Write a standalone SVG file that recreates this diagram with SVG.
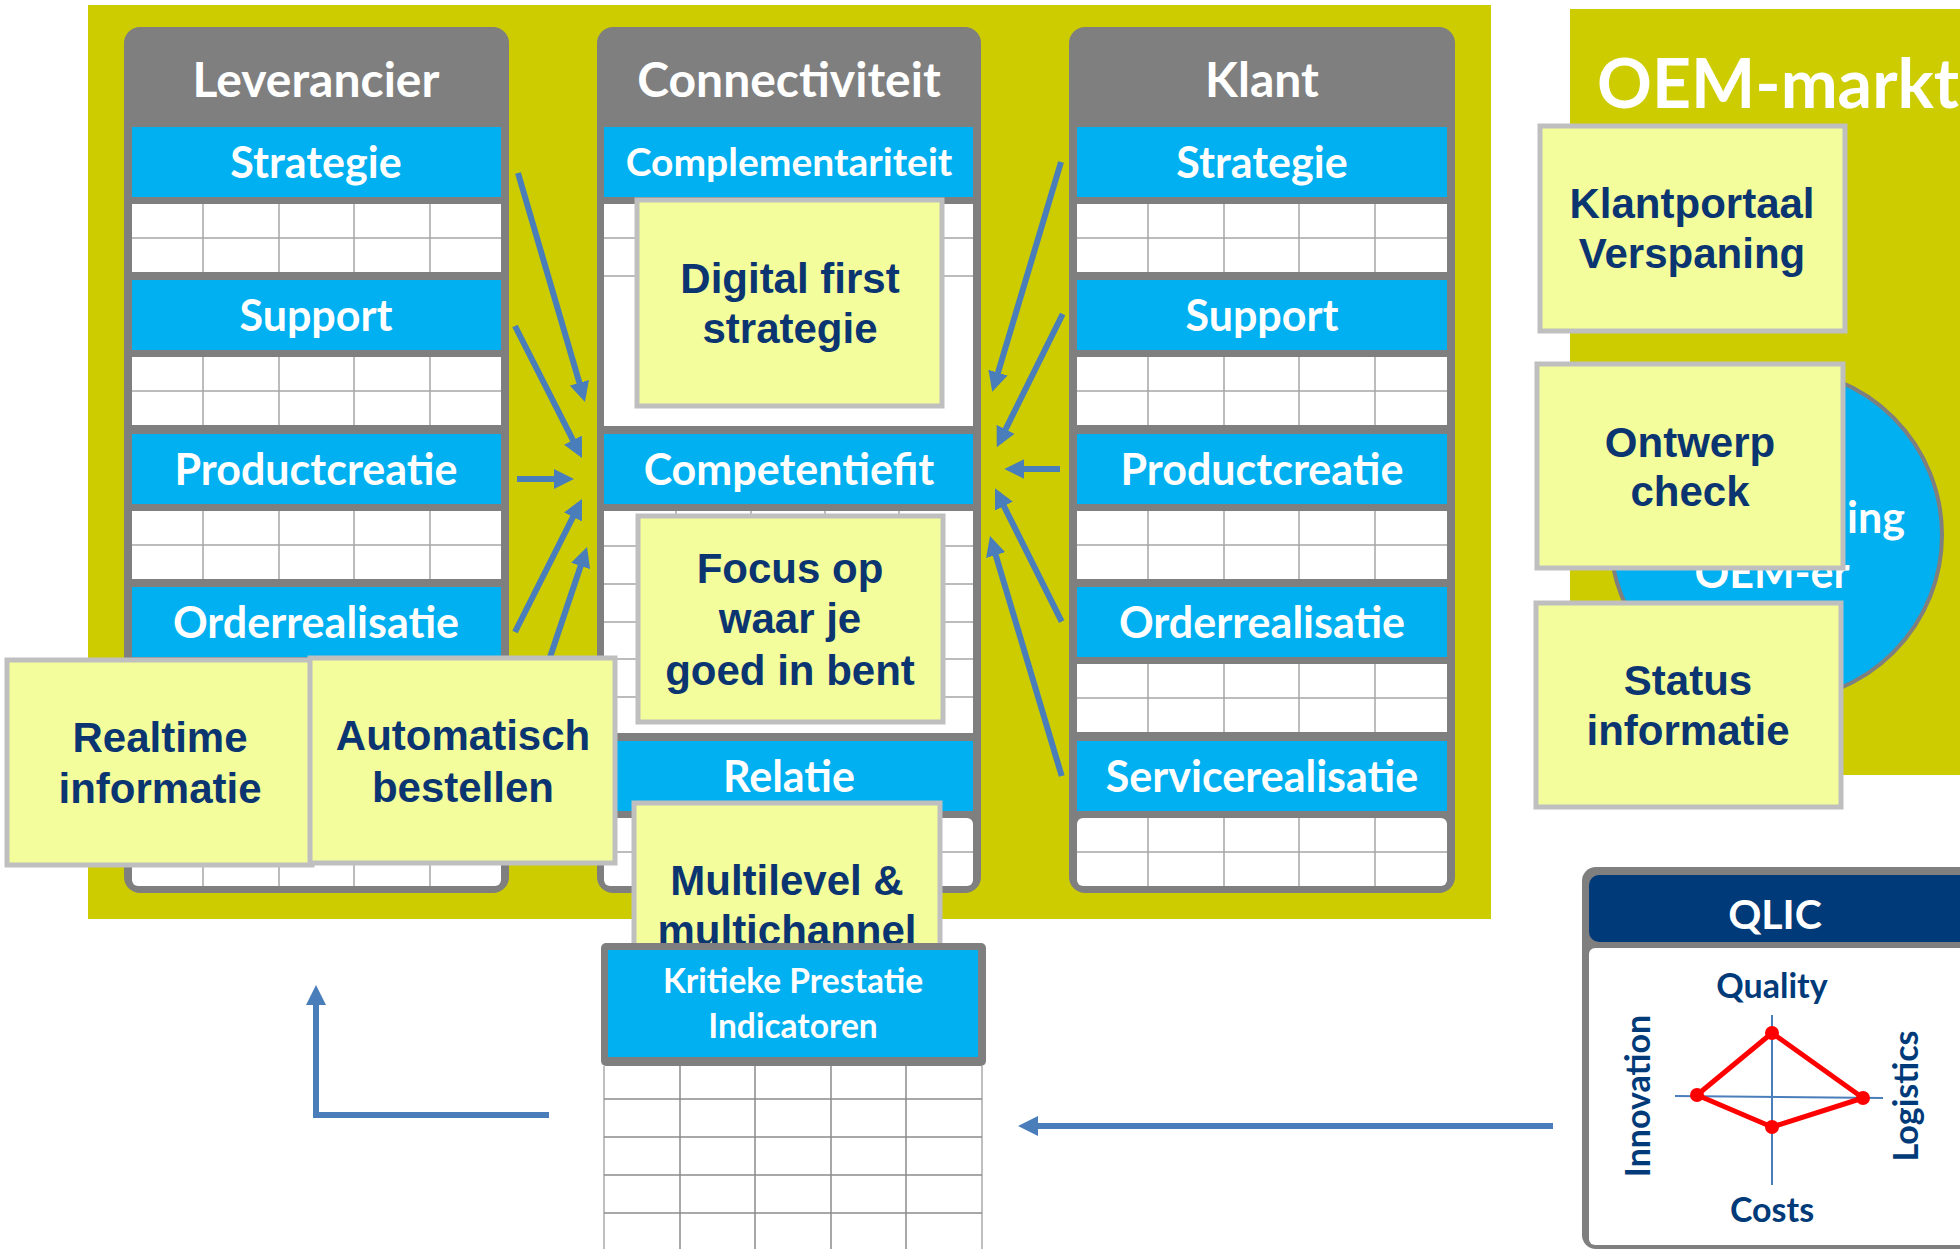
<svg xmlns="http://www.w3.org/2000/svg" width="1960" height="1249" viewBox="0 0 1960 1249">
<defs>
<style>
.yel{fill:#CCCC00}
.col{fill:#7F7F7F}
.band{fill:#00B0F0}
.tbl{fill:#FFFFFF}
.grid{stroke:#A6A6A6;stroke-width:1.5;fill:none}
.hdr{font-family:Lato,"Liberation Sans",sans-serif;font-weight:700;fill:#FFFFFF;font-size:48px;text-anchor:middle}
.bt{font-family:Lato,"Liberation Sans",sans-serif;font-weight:700;fill:#FFFFFF;font-size:43px;text-anchor:middle}
.sticky{fill:#F3FD9B;stroke:#BFBFBF;stroke-width:5}
.st{font-family:"Liberation Sans",Arial,sans-serif;font-weight:700;font-size:42px;fill:#0B3570;text-anchor:middle}
.arr{stroke:#4A7EBB;stroke-width:6;fill:none;marker-end:url(#ah)}
.q{font-family:Lato,"Liberation Sans",sans-serif;font-weight:700;fill:#003A78;font-size:34px;text-anchor:middle}
</style>
<marker id="ah" markerUnits="userSpaceOnUse" markerWidth="20" markerHeight="20" viewBox="0 0 20 20" refX="14" refY="10" orient="auto">
<path d="M0,0 L20,10 L0,20 z" fill="#4A7EBB"/>
</marker>
</defs>
<rect width="1960" height="1249" fill="#FFFFFF"/>
<rect id="main-area" class="yel" x="88" y="5" width="1403" height="914"/>
<rect id="oem-area" class="yel" x="1570" y="9" width="390" height="766"/>

<g id="col-leverancier">
<rect class="col" x="124" y="27" width="385" height="866" rx="16"/>
<text class="hdr" x="316" y="97">Leverancier</text>
<rect class="band" x="132" y="127" width="369" height="70"/>
<rect class="band" x="132" y="280" width="369" height="70"/>
<rect class="band" x="132" y="434" width="369" height="70"/>
<rect class="band" x="132" y="587" width="369" height="70"/>
<rect class="band" x="132" y="741" width="369" height="70"/>
<rect class="tbl" x="132" y="204" width="369" height="68"/>
<rect class="tbl" x="132" y="357" width="369" height="68"/>
<rect class="tbl" x="132" y="511" width="369" height="68"/>
<rect class="tbl" x="132" y="664" width="369" height="68"/>
<rect class="tbl" x="132" y="818" width="369" height="68" rx="6"/>
<path class="grid" d="M132,238H501M203,204V272M279,204V272M354,204V272M430,204V272
M132,391H501M203,357V425M279,357V425M354,357V425M430,357V425
M132,545H501M203,511V579M279,511V579M354,511V579M430,511V579
M132,698H501M203,664V732M279,664V732M354,664V732M430,664V732
M132,852H501M203,818V886M279,818V886M354,818V886M430,818V886"/>
<text class="bt" x="316" y="178">Strategie</text>
<text class="bt" x="316" y="331">Support</text>
<text class="bt" x="316" y="485">Productcreatie</text>
<text class="bt" x="316" y="638">Orderrealisatie</text>
</g>

<g id="col-connectiviteit">
<rect class="col" x="597" y="27" width="384" height="866" rx="16"/>
<text class="hdr" x="789" y="97">Connectiviteit</text>
<rect class="band" x="604" y="127" width="369" height="70"/>
<rect class="band" x="604" y="434" width="369" height="70"/>
<rect class="band" x="604" y="741" width="369" height="70"/>
<rect class="tbl" x="604" y="204" width="369" height="222"/>
<rect class="tbl" x="604" y="511" width="369" height="222"/>
<rect class="tbl" x="604" y="818" width="369" height="68" rx="6"/>
<path class="grid" d="M604,238H973M604,276H973M676,204V276M751,204V276M825,204V276M899,204V276
M604,546H973M604,584H973M604,622H973M604,659H973M604,697H973M676,511V697M751,511V697M825,511V697M899,511V697
M604,852H973M676,818V886M751,818V886M825,818V886M899,818V886"/>
<text class="bt" x="789" y="176" style="font-size:39px">Complementariteit</text>
<text class="bt" x="789" y="485">Competentiefit</text>
<text class="bt" x="789" y="792">Relatie</text>
</g>

<g id="col-klant">
<rect class="col" x="1069" y="27" width="386" height="866" rx="16"/>
<text class="hdr" x="1262" y="97">Klant</text>
<rect class="band" x="1077" y="127" width="370" height="70"/>
<rect class="band" x="1077" y="280" width="370" height="70"/>
<rect class="band" x="1077" y="434" width="370" height="70"/>
<rect class="band" x="1077" y="587" width="370" height="70"/>
<rect class="band" x="1077" y="741" width="370" height="70"/>
<rect class="tbl" x="1077" y="204" width="370" height="68"/>
<rect class="tbl" x="1077" y="357" width="370" height="68"/>
<rect class="tbl" x="1077" y="511" width="370" height="68"/>
<rect class="tbl" x="1077" y="664" width="370" height="68"/>
<rect class="tbl" x="1077" y="818" width="370" height="68" rx="6"/>
<path class="grid" d="M1077,238H1447M1148,204V272M1224,204V272M1299,204V272M1375,204V272
M1077,391H1447M1148,357V425M1224,357V425M1299,357V425M1375,357V425
M1077,545H1447M1148,511V579M1224,511V579M1299,511V579M1375,511V579
M1077,698H1447M1148,664V732M1224,664V732M1299,664V732M1375,664V732
M1077,852H1447M1148,818V886M1224,818V886M1299,818V886M1375,818V886"/>
<text class="bt" x="1262" y="178">Strategie</text>
<text class="bt" x="1262" y="331">Support</text>
<text class="bt" x="1262" y="485">Productcreatie</text>
<text class="bt" x="1262" y="638">Orderrealisatie</text>
<text class="bt" x="1262" y="792">Servicerealisatie</text>
</g>

<g id="connectors">
<line class="arr" x1="518" y1="173" x2="583.3" y2="396.2"/>
<line class="arr" x1="515" y1="326" x2="579.3" y2="452.6"/>
<line class="arr" x1="517" y1="479" x2="568" y2="479"/>
<line class="arr" x1="515" y1="632" x2="579.3" y2="504.4"/>
<line class="arr" x1="539" y1="690" x2="585.1" y2="552.7"/>
<line class="arr" x1="1061" y1="162" x2="994" y2="386"/>
<line class="arr" x1="1062.7" y1="314" x2="999.4" y2="441.9"/>
<line class="arr" x1="1060" y1="469" x2="1010.3" y2="469"/>
<line class="arr" x1="1061.7" y1="621.7" x2="997.7" y2="493.7"/>
<line class="arr" x1="1061.7" y1="776" x2="991.7" y2="541.7"/>
<polyline class="arr" points="549,1115 316,1115 316,991"/>
<line class="arr" x1="1553" y1="1126" x2="1024" y2="1126"/>
</g>

<g id="oem-markt">
<text x="1597" y="108" style="font-family:Lato,'Liberation Sans',sans-serif;font-weight:700;font-size:68px;fill:#FFFFFF">OEM-markt</text>
<circle cx="1776" cy="535" r="166" fill="#00B0F0" stroke="#7F7F7F" stroke-width="4"/>
<text class="bt" x="1847" y="533" style="text-anchor:start">ing</text>
<text class="bt" x="1772" y="588">OEM-er</text>
</g>

<g id="sticky-klantportaal">
<rect class="sticky" x="1540" y="126" width="305" height="205"/>
<text class="st" x="1692" y="218">Klantportaal</text>
<text class="st" x="1692" y="268">Verspaning</text>
</g>
<g id="sticky-ontwerp">
<rect class="sticky" x="1537" y="364" width="306" height="204"/>
<text class="st" x="1690" y="457">Ontwerp</text>
<text class="st" x="1690" y="506">check</text>
</g>
<g id="sticky-status">
<rect class="sticky" x="1536" y="603" width="305" height="204"/>
<text class="st" x="1688" y="695">Status</text>
<text class="st" x="1688" y="745">informatie</text>
</g>
<g id="sticky-digital">
<rect class="sticky" x="637" y="200" width="305" height="206"/>
<text class="st" x="790" y="293">Digital first</text>
<text class="st" x="790" y="343">strategie</text>
</g>
<g id="sticky-focus">
<rect class="sticky" x="638" y="516" width="305" height="206"/>
<text class="st" x="790" y="583">Focus op</text>
<text class="st" x="790" y="633">waar je</text>
<text class="st" x="790" y="685">goed in bent</text>
</g>
<g id="sticky-realtime">
<rect class="sticky" x="7" y="660" width="305" height="205"/>
<text class="st" x="160" y="752">Realtime</text>
<text class="st" x="160" y="803">informatie</text>
</g>
<g id="sticky-automatisch">
<rect class="sticky" x="310" y="658" width="305" height="205"/>
<text class="st" x="463" y="750">Automatisch</text>
<text class="st" x="463" y="802">bestellen</text>
</g>
<g id="sticky-multilevel">
<rect class="sticky" x="634" y="803" width="306" height="200"/>
<text class="st" x="787" y="895">Multilevel &amp;</text>
<text class="st" x="787" y="945">multichannel</text>
</g>

<g id="kpi">
<rect x="601" y="943" width="385" height="123" rx="5" fill="#7F7F7F"/>
<rect class="band" x="608" y="950" width="370" height="107"/>
<text class="bt" x="793" y="993" style="font-size:33.5px">Kritieke Prestatie</text>
<text class="bt" x="793" y="1038" style="font-size:33.5px">Indicatoren</text>
<rect class="tbl" x="604" y="1066" width="378" height="190"/>
<path d="M604,1066V1249M982,1066V1249" stroke="#BFBFBF" stroke-width="2" fill="none"/>
<path class="grid" d="M604,1099H982M604,1137H982M604,1175H982M604,1213H982M680,1066V1249M755,1066V1249M831,1066V1249M906,1066V1249" style="stroke:#8C8C8C"/>
</g>

<g id="qlic">
<rect x="1582" y="867" width="400" height="382" rx="14" fill="#7F7F7F"/>
<rect x="1589" y="875" width="390" height="67" rx="10" fill="#003A78"/>
<rect x="1589" y="948" width="390" height="297" rx="6" fill="#FFFFFF"/>
<text x="1775" y="929" style="font-family:Lato,'Liberation Sans',sans-serif;font-weight:700;font-size:41px;fill:#FFFFFF;text-anchor:middle">QLIC</text>
<line x1="1675" y1="1096" x2="1883" y2="1098" stroke="#4A7EBB" stroke-width="2"/>
<line x1="1772" y1="1015" x2="1772" y2="1185" stroke="#4A7EBB" stroke-width="2"/>
<polygon points="1772,1033 1863,1098 1772,1127 1697,1095" fill="none" stroke="#FF0000" stroke-width="5" stroke-linejoin="round"/>
<circle cx="1772" cy="1033" r="7" fill="#FF0000"/>
<circle cx="1863" cy="1098" r="7" fill="#FF0000"/>
<circle cx="1772" cy="1127" r="7" fill="#FF0000"/>
<circle cx="1697" cy="1095" r="7" fill="#FF0000"/>
<text class="q" x="1772" y="998">Quality</text>
<text class="q" x="1772" y="1222">Costs</text>
<text class="q" transform="translate(1650,1096) rotate(-90)">Innovation</text>
<text class="q" transform="translate(1918,1096) rotate(-90)">Logistics</text>
</g>
</svg>
